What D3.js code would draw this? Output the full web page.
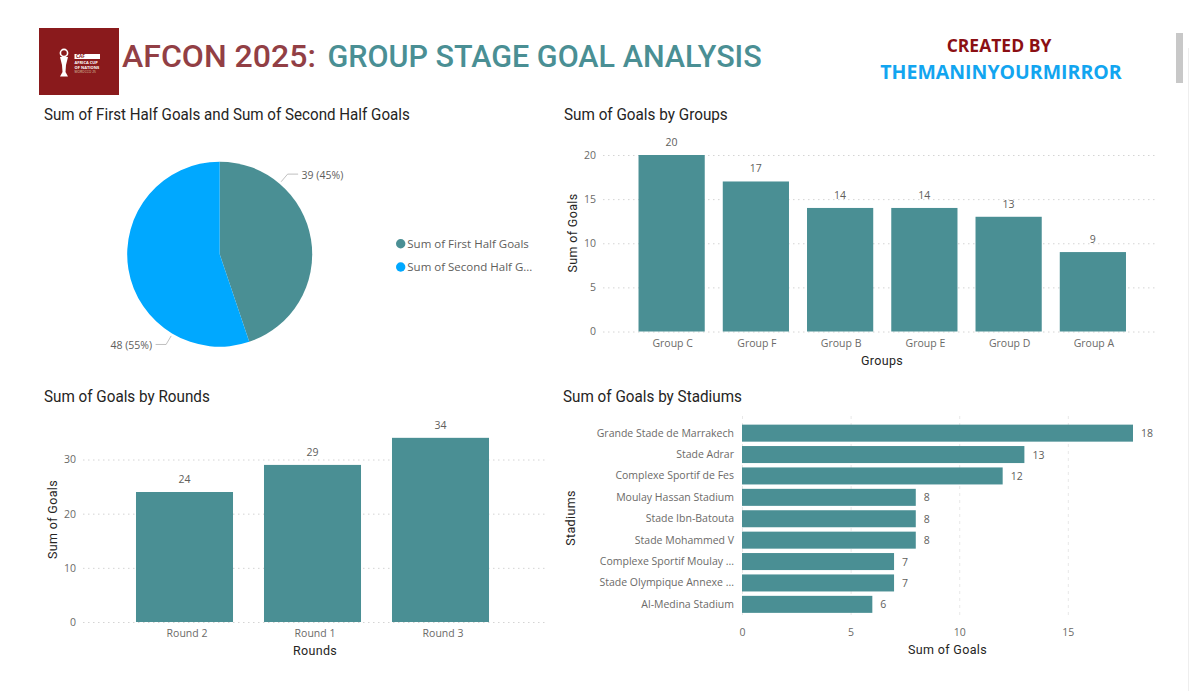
<!DOCTYPE html>
<html><head><meta charset="utf-8">
<script src="https://cdn.jsdelivr.net/npm/d3@7/dist/d3.min.js"></script>
<style>
html,body{margin:0;padding:0;background:#fff;overflow:hidden}
svg{display:block}
text{font-family:"Open Sans",sans-serif}
.tt{font-family:Roboto,sans-serif;font-size:16px;fill:#252423}
.tick{font-size:10.5px;fill:#6b6a68}
.lab{font-size:10.5px;fill:#605e5c}
.axt{font-family:Roboto,sans-serif;font-weight:400;font-size:12.5px;fill:#252423;letter-spacing:.35px}
.grid{stroke:#d4d4d4;stroke-dasharray:1.5 3.5;stroke-width:1}
.vgrid{stroke:#e8e8e8;stroke-dasharray:3 4;stroke-width:1}
</style></head><body>
<svg id="c" width="1200" height="691"></svg>
<script>
const pieLabels=["Sum of First Half Goals","Sum of Second Half G..."];
const pieValues=[39,48];
const pieText=["39 (45%)","48 (55%)"];
const groupNames=["Group C","Group F","Group B","Group E","Group D","Group A"];
const groupGoals=[20,17,14,14,13,9];
const groupTicks=[0,5,10,15,20];
const roundNames=["Round 2","Round 1","Round 3"];
const roundGoals=[24,29,34];
const roundTicks=[0,10,20,30];
const stadiumNames=["Grande Stade de Marrakech","Stade Adrar","Complexe Sportif de Fes","Moulay Hassan Stadium","Stade Ibn-Batouta","Stade Mohammed V","Complexe Sportif Moulay ...","Stade Olympique Annexe ...","Al-Medina Stadium"];
const stadiumGoals=[18,13,12,8,8,8,7,7,6];
const stadiumTicks=[0,5,10,15];

const TEAL="#4a8f94",BLUE="#00a8ff",svg=d3.select("#c");

// squeeze a text horizontally to a measured width (the source face is condensed)
function fit(sel,x,y,w){
  const k=w/sel.node().getComputedTextLength();
  sel.attr("x",null).attr("y",null).attr("transform",`translate(${x},${y}) scale(${k},1)`);
}

// header
svg.append("rect").attr("x",39).attr("y",28).attr("width",80).attr("height",67).attr("fill","#8a1a1c");
const logo=svg.append("g");
logo.append("circle").attr("cx",64).attr("cy",53).attr("r",3.6).attr("fill","none").attr("stroke","#fff").attr("stroke-width",1.6);
logo.append("path").attr("fill","#fff").attr("d",d3.line()([[60,57],[68,57],[66,65],[65.5,72],[68,76.5],[60,76.5],[62.5,72],[62,65]]));
logo.append("rect").attr("x",74.5).attr("y",54).attr("width",25.5).attr("height",5).attr("fill","#fff");
logo.append("text").attr("x",76).attr("y",58.4).attr("font-size",4.8).attr("font-weight",700).attr("fill","#8a1a1c").text("CAF");
logo.append("text").attr("x",74.5).attr("y",64).attr("font-size",4).attr("font-weight",700).attr("fill","#fff").text("AFRICA CUP");
logo.append("text").attr("x",74.5).attr("y",68.5).attr("font-size",4).attr("font-weight",700).attr("fill","#fff").text("OF NATIONS");
logo.append("text").attr("x",74.5).attr("y",72.5).attr("font-size",3.3).attr("fill","#d9c9a8").text("MOROCCO 25");
[["AFCON 2025:","#923f45",122,194],["GROUP STAGE GOAL ANALYSIS",TEAL,327.5,434.5]].forEach(([t,c,x,w])=>{
  fit(svg.append("text").attr("font-size",31).attr("font-weight",500).style("font-family","Roboto,sans-serif").attr("fill",c).text(t),x,67,w);
});
svg.append("text").attr("x",999).attr("y",52).attr("text-anchor","middle").attr("font-size",17.5).attr("font-weight",700).attr("fill","#8b0f14").text("CREATED BY");
svg.append("text").attr("x",1001).attr("y",79).attr("text-anchor","middle").attr("font-size",19.5).attr("font-weight",700).attr("fill","#12a5f0").text("THEMANINYOURMIRROR");
svg.append("rect").attr("x",1176).attr("y",33).attr("width",7).attr("height",50).attr("fill","#c8c8c8");
svg.append("line").attr("x1",1188.5).attr("x2",1188.5).attr("y1",48).attr("y2",691).attr("stroke","#eeeeee");

// titles
[["Sum of First Half Goals and Sum of Second Half Goals",44,120,366],["Sum of Goals by Groups",564,120,164],["Sum of Goals by Rounds",44,402,166],["Sum of Goals by Stadiums",563,402,179]]
 .forEach(([t,x,y,w])=>fit(svg.append("text").attr("class","tt").text(t),x,y,w));

// pie
const pieG=svg.append("g").attr("transform","translate(219.7,254.2)");
const R=92.5,arcs=d3.pie().sort(null)(pieValues),arc=d3.arc().innerRadius(0).outerRadius(R);
pieG.selectAll("path").data(arcs).join("path").attr("d",arc).attr("fill",(d,i)=>[TEAL,BLUE][i]);
const leaderAngle=[40.3,210.7];
leaderAngle.forEach((deg,i)=>{
  const m=deg*Math.PI/180,sx=Math.sin(m),cy=-Math.cos(m),dir=i?-1:1;
  const p0=[sx*95,cy*95],p1=[sx*105,cy*105],p2=[p1[0]+dir*10.5,p1[1]];
  pieG.append("path").attr("fill","none").attr("stroke","#b0b0b0").attr("stroke-width",.8).attr("d",d3.line()([p0,p1,p2]));
  pieG.append("text").attr("class","lab").attr("x",p2[0]+dir*3.5).attr("y",p2[1]+5)
    .attr("text-anchor",i?"end":"start").text(pieText[i]);
});
pieLabels.forEach((l,i)=>{
  const y=243.7+i*23.3;
  svg.append("circle").attr("cx",400.7).attr("cy",y).attr("r",4.7).attr("fill",[TEAL,BLUE][i]);
  svg.append("text").attr("x",407.3).attr("y",y+4.3).attr("font-size",11.5).attr("fill","#605e5c").text(l);
});

// vertical bars
function vbars(o){
  const x=d3.scaleBand().domain(o.names).range(o.xr).paddingInner(o.pad).paddingOuter(o.pad/2);
  const y=d3.scaleLinear().domain(o.dom).range(o.yr);
  const g=svg.append("g");
  const ay=g.append("g").attr("transform",`translate(${o.gx0},0)`)
    .call(d3.axisLeft(y).tickValues(o.ticks).tickSize(0).tickPadding(o.tp));
  ay.select(".domain").remove();
  ay.selectAll("text").attr("class","tick").attr("font-family",null).attr("font-size",null).attr("fill",null);
  ay.selectAll("line").remove();
  g.selectAll(".grid").data(o.ticks).join("line").attr("class","grid")
    .attr("x1",o.gx0).attr("x2",o.gx1).attr("y1",d=>y(d)+.5).attr("y2",d=>y(d)+.5);
  const ax=g.append("g").attr("transform",`translate(${o.tickShift},${o.yr[0]})`)
    .call(d3.axisBottom(x).tickSize(0).tickPadding(o.btp));
  ax.select(".domain").remove();
  ax.selectAll("text").attr("class","tick").attr("font-family",null).attr("font-size",null).attr("fill",null);
  g.selectAll(".b").data(o.vals).join("rect").attr("fill",TEAL)
    .attr("x",(d,i)=>x(o.names[i])).attr("width",x.bandwidth())
    .attr("y",d=>y(d)).attr("height",d=>y(0)-y(d));
  g.selectAll(".v").data(o.vals).join("text").attr("class","lab").attr("text-anchor","middle")
    .attr("x",(d,i)=>x(o.names[i])+x.bandwidth()/2).attr("y",d=>y(d)-9).text(d=>d);
  g.append("text").attr("class","axt").attr("text-anchor","middle").attr("x",o.xtx).attr("y",o.xty).text(o.xt);
  g.append("text").attr("class","axt").attr("text-anchor","middle")
    .attr("transform",`translate(${o.ytx},${o.yty}) rotate(-90)`).text("Sum of Goals");
}
vbars({names:groupNames,vals:groupGoals,ticks:groupTicks,dom:[0,20],xr:[629.5,1135],yr:[331.5,155],pad:.214,
  gx0:603,gx1:1158,tp:7,btp:8,tickShift:1,xt:"Groups",xtx:882,xty:365,ytx:577,yty:233});
vbars({names:roundNames,vals:roundGoals,ticks:roundTicks,dom:[0,30],xr:[120.5,504.5],yr:[622,459.5],pad:.242,
  gx0:83,gx1:546,tp:7,btp:8,tickShift:2.5,xt:"Rounds",xtx:315,xty:655,ytx:57,yty:519.5});

// horizontal bars
(function(){
  const y=d3.scaleBand().domain(stadiumNames).range([422.5,615]).paddingInner(.205).paddingOuter(.1);
  const x=d3.scaleLinear().domain([0,18]).range([742,1133]);
  const g=svg.append("g");
  g.selectAll(".vgrid").data(stadiumTicks).join("line").attr("class","vgrid")
    .attr("x1",d=>x(d)+.5).attr("x2",d=>x(d)+.5).attr("y1",416).attr("y2",618);
  const ay=g.append("g").attr("transform","translate(742,0)").call(d3.axisLeft(y).tickSize(0).tickPadding(8));
  ay.select(".domain").remove();
  ay.selectAll("text").attr("class","tick").attr("font-family",null).attr("font-size",null).attr("fill",null);
  const ax=g.append("g").attr("transform","translate(0,622)").call(d3.axisBottom(x).tickValues(stadiumTicks).tickSize(0).tickPadding(7));
  ax.select(".domain").remove();
  ax.selectAll("text").attr("class","tick").attr("font-family",null).attr("font-size",null).attr("fill",null);
  g.selectAll(".b").data(stadiumGoals).join("rect").attr("fill",TEAL)
    .attr("x",x(0)).attr("y",(d,i)=>y(stadiumNames[i])).attr("height",y.bandwidth()).attr("width",d=>x(d)-x(0));
  g.selectAll(".v").data(stadiumGoals).join("text").attr("class","lab")
    .attr("x",d=>x(d)+8).attr("y",(d,i)=>y(stadiumNames[i])+y.bandwidth()/2+4).text(d=>d);
  g.append("text").attr("class","axt").attr("text-anchor","middle").attr("x",947.5).attr("y",654).text("Sum of Goals");
  g.append("text").attr("class","axt").attr("text-anchor","middle").attr("transform","translate(575,518) rotate(-90)").text("Stadiums");
})();
</script></body></html>
